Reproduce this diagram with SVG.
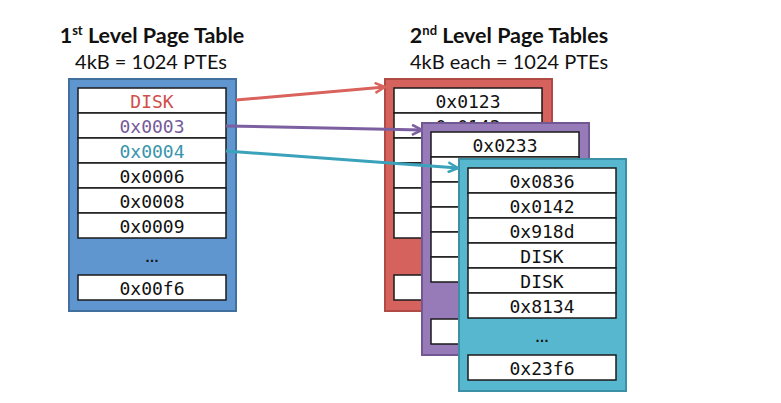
<svg xmlns="http://www.w3.org/2000/svg" width="781" height="403" viewBox="0 0 781 403">
<style>
.title{font-family:Lato,"Liberation Sans",sans-serif;font-weight:bold;font-size:21.5px;fill:#111;text-anchor:middle}
.sub{font-family:Lato,"Liberation Sans",sans-serif;font-size:20px;fill:#111;text-anchor:middle}
.cell{fill:#fff;stroke:#1a1a1a;stroke-width:1.5}
.t{font-family:"DejaVu Sans Mono","Liberation Mono",monospace;font-size:18px;fill:#111;text-anchor:middle}
.dots{font-family:"Liberation Sans",sans-serif;font-weight:bold;font-size:14px;fill:#111;text-anchor:middle}
.blue{fill:#6096d0;stroke:#41709f;stroke-width:2}
.red{fill:#d6625d;stroke:#b04a45;stroke-width:2}
.purple{fill:#977bb9;stroke:#715893;stroke-width:2}
.teal{fill:#56b7cf;stroke:#3c90a6;stroke-width:2}
.conn{fill:none;stroke-width:3}
</style>
<defs>
<marker id="ar" viewBox="0 0 12 12" markerWidth="12" markerHeight="12" refX="11" refY="6" orient="auto" markerUnits="userSpaceOnUse"><path d="M1,1 L11,6 L1,11" fill="none" stroke="#d9625d" stroke-width="2.5"/></marker>
<marker id="ap" viewBox="0 0 12 12" markerWidth="12" markerHeight="12" refX="11" refY="6" orient="auto" markerUnits="userSpaceOnUse"><path d="M1,1 L11,6 L1,11" fill="none" stroke="#7b5fa0" stroke-width="2.5"/></marker>
<marker id="at" viewBox="0 0 12 12" markerWidth="12" markerHeight="12" refX="11" refY="6" orient="auto" markerUnits="userSpaceOnUse"><path d="M1,1 L11,6 L1,11" fill="none" stroke="#3aa2ba" stroke-width="2.5"/></marker>
</defs>
<rect width="781" height="403" fill="#fff"/>
<g id="titles">
<text class="title" x="152" y="43">1<tspan font-size="13" dy="-8">st</tspan><tspan dy="8"> Level Page Table</tspan></text>
<text class="sub" x="151" y="69">4kB = 1024 PTEs</text>
<text class="title" x="509" y="43">2<tspan font-size="13" dy="-8">nd</tspan><tspan dy="8"> Level Page Tables</tspan></text>
<text class="sub" x="509" y="69">4kB each = 1024 PTEs</text>
</g>
<g id="table1" transform="translate(69,79)">
<rect class="blue" x="0" y="0" width="167" height="232"/>
<rect class="cell" x="9" y="9" width="148" height="25"/>
<rect class="cell" x="9" y="34" width="148" height="25"/>
<rect class="cell" x="9" y="59" width="148" height="25"/>
<rect class="cell" x="9" y="84" width="148" height="25"/>
<rect class="cell" x="9" y="109" width="148" height="25"/>
<rect class="cell" x="9" y="134" width="148" height="25"/>
<rect class="cell" x="9" y="196" width="148" height="25"/>
<text class="t" x="83" y="29" style="fill:#cf4f4b">DISK</text>
<text class="t" x="83" y="54" style="fill:#765a98">0x0003</text>
<text class="t" x="83" y="79" style="fill:#3895ab">0x0004</text>
<text class="t" x="83" y="104">0x0006</text>
<text class="t" x="83" y="129">0x0008</text>
<text class="t" x="83" y="154">0x0009</text>
<text class="dots" x="83" y="183">…</text>
<text class="t" x="83" y="216">0x00f6</text>
</g>
<g id="table2a" transform="translate(385,79)">
<rect class="red" x="0" y="0" width="167" height="232"/>
<rect class="cell" x="9" y="9" width="148" height="25"/>
<rect class="cell" x="9" y="34" width="148" height="25"/>
<rect class="cell" x="9" y="59" width="148" height="25"/>
<rect class="cell" x="9" y="84" width="148" height="25"/>
<rect class="cell" x="9" y="109" width="148" height="25"/>
<rect class="cell" x="9" y="134" width="148" height="25"/>
<rect class="cell" x="9" y="196" width="148" height="25"/>
<text class="t" x="83" y="29">0x0123</text>
<text class="t" x="83" y="54">0x0142</text>
</g>
<g id="table2b" transform="translate(422,123)">
<rect class="purple" x="0" y="0" width="167" height="232"/>
<rect class="cell" x="9" y="9" width="148" height="25"/>
<rect class="cell" x="9" y="34" width="148" height="25"/>
<rect class="cell" x="9" y="59" width="148" height="25"/>
<rect class="cell" x="9" y="84" width="148" height="25"/>
<rect class="cell" x="9" y="109" width="148" height="25"/>
<rect class="cell" x="9" y="134" width="148" height="25"/>
<rect class="cell" x="9" y="196" width="148" height="25"/>
<text class="t" x="83" y="29">0x0233</text>
</g>
<g id="table2c" transform="translate(459,159)">
<rect class="teal" x="0" y="0" width="167" height="232"/>
<rect class="cell" x="9" y="9" width="148" height="25"/>
<rect class="cell" x="9" y="34" width="148" height="25"/>
<rect class="cell" x="9" y="59" width="148" height="25"/>
<rect class="cell" x="9" y="84" width="148" height="25"/>
<rect class="cell" x="9" y="109" width="148" height="25"/>
<rect class="cell" x="9" y="134" width="148" height="25"/>
<rect class="cell" x="9" y="196" width="148" height="25"/>
<text class="t" x="83" y="29">0x0836</text>
<text class="t" x="83" y="54">0x0142</text>
<text class="t" x="83" y="79">0x918d</text>
<text class="t" x="83" y="104">DISK</text>
<text class="t" x="83" y="129">DISK</text>
<text class="t" x="83" y="154">0x8134</text>
<text class="dots" x="83" y="183">…</text>
<text class="t" x="83" y="216">0x23f6</text>
</g>
<g id="connectors">
<line class="conn" x1="236" y1="100" x2="385" y2="87" stroke="#d9625d" marker-end="url(#ar)"/>
<line class="conn" x1="226" y1="126" x2="422" y2="130" stroke="#7b5fa0" marker-end="url(#ap)"/>
<line class="conn" x1="226" y1="151" x2="458" y2="168" stroke="#3aa2ba" marker-end="url(#at)"/>
</g>
</svg>
